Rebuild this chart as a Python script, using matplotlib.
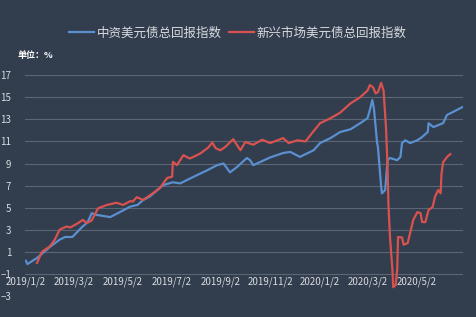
import matplotlib
matplotlib.use("Agg")
import matplotlib.pyplot as plt
import matplotlib.dates as mdates
import pandas as pd

plt.rcParams['font.family'] = ['Noto Sans CJK SC', 'DejaVu Sans']

BG = "#323d4e"
GRID = "#5b6575"
TXT = "#d9dce0"

# 中资美元债总回报指数
cn_dates = ["2019-01-02", "2019-01-04", "2019-01-16", "2019-02-01", "2019-02-13", "2019-02-20",
            "2019-03-01", "2019-03-13", "2019-03-20", "2019-03-25", "2019-03-31", "2019-04-17",
            "2019-04-29", "2019-05-12", "2019-05-21", "2019-05-28", "2019-06-05", "2019-06-22",
            "2019-07-04", "2019-07-13", "2019-08-03", "2019-08-16", "2019-08-28", "2019-09-05",
            "2019-09-13", "2019-09-22", "2019-10-04", "2019-10-08", "2019-10-12", "2019-11-02",
            "2019-11-18", "2019-11-27", "2019-12-09", "2019-12-26", "2020-01-03", "2020-01-16",
            "2020-01-28", "2020-02-10", "2020-02-22", "2020-03-02", "2020-03-05", "2020-03-08",
            "2020-03-10", "2020-03-14", "2020-03-15", "2020-03-19", "2020-03-20", "2020-03-24",
            "2020-03-27", "2020-03-30", "2020-04-08", "2020-04-12", "2020-04-14", "2020-04-18",
            "2020-04-24", "2020-05-03", "2020-05-09", "2020-05-16", "2020-05-17", "2020-05-23",
            "2020-06-04", "2020-06-09", "2020-06-16", "2020-06-28"]
cn_values = [0.2, -0.1, 0.45, 1.45, 2.1, 2.35,
             2.35, 3.25, 3.7, 4.5, 4.35, 4.15,
             4.6, 5.1, 5.25, 5.7, 6.0, 7.05,
             7.3, 7.2, 7.95, 8.4, 8.85, 9.0,
             8.2, 8.7, 9.5, 9.3, 8.85, 9.55,
             9.95, 10.05, 9.6, 10.2, 10.85, 11.3,
             11.85, 12.1, 12.65, 13.1, 13.85, 14.75,
             14.0, 10.85, 10.5, 6.9, 6.3, 6.6,
             9.3, 9.5, 9.3, 9.6, 10.85, 11.1,
             10.85, 11.1, 11.4, 11.85, 12.65, 12.3,
             12.65, 13.4, 13.65, 14.1]

# 新兴市场美元债总回报指数
em_dates = ["2019-01-16", "2019-01-22", "2019-02-01", "2019-02-07", "2019-02-13", "2019-02-17",
            "2019-02-22", "2019-02-26", "2019-03-08", "2019-03-14", "2019-03-19", "2019-03-25",
            "2019-04-02", "2019-04-13", "2019-04-25", "2019-05-03", "2019-05-12", "2019-05-15",
            "2019-05-20", "2019-05-28", "2019-06-09", "2019-06-18", "2019-06-27", "2019-07-03",
            "2019-07-04", "2019-07-09", "2019-07-17", "2019-07-25", "2019-08-07", "2019-08-17",
            "2019-08-22", "2019-08-26", "2019-09-01", "2019-09-07", "2019-09-17", "2019-09-26",
            "2019-10-02", "2019-10-04", "2019-10-12", "2019-10-23", "2019-11-02", "2019-11-18",
            "2019-11-25", "2019-12-06", "2019-12-16", "2019-12-24", "2020-01-03", "2020-01-16",
            "2020-01-28", "2020-02-10", "2020-02-22", "2020-03-02", "2020-03-05", "2020-03-09",
            "2020-03-12", "2020-03-15", "2020-03-19", "2020-03-22", "2020-03-25", "2020-03-27",
            "2020-03-28", "2020-03-30", "2020-04-02", "2020-04-03", "2020-04-06", "2020-04-08",
            "2020-04-09", "2020-04-14", "2020-04-16", "2020-04-21", "2020-04-24", "2020-04-28",
            "2020-05-03", "2020-05-07", "2020-05-09", "2020-05-13", "2020-05-17", "2020-05-22",
            "2020-05-25", "2020-05-29", "2020-06-01", "2020-06-02", "2020-06-04", "2020-06-09",
            "2020-06-13"]
em_values = [0.0, 1.0, 1.5, 2.1, 3.0, 3.15,
             3.3, 3.2, 3.6, 3.9, 3.6, 3.85,
             4.95, 5.25, 5.45, 5.25, 5.6, 5.55,
             5.95, 5.7, 6.3, 6.8, 7.7, 7.8,
             9.15, 8.85, 9.75, 9.45, 9.9, 10.45,
             10.9, 10.4, 10.2, 10.5, 11.2, 10.2,
             10.95, 10.9, 10.7, 11.15, 10.85, 11.3,
             10.85, 11.1, 11.0, 11.75, 12.65, 13.1,
             13.6, 14.45, 15.0, 15.6, 16.1, 15.9,
             15.35, 15.45, 16.3, 15.6, 12.3, 8.7,
             5.4, 2.35, -0.6, -2.2, -2.0, -0.6,
             2.35, 2.3, 1.65, 1.8, 2.7, 3.9,
             4.6, 4.5, 3.7, 3.7, 4.8, 5.05,
             6.0, 6.6, 6.3, 8.0, 9.1, 9.6,
             9.85]

y_ticks = [-3, -1, 1, 3, 5, 7, 9, 11, 13, 15, 17]
x_ticks = ["2019-01-02", "2019-03-02", "2019-05-02", "2019-07-02", "2019-09-02",
           "2019-11-02", "2020-01-02", "2020-03-02", "2020-05-02"]

fig = plt.figure(figsize=(4.76, 3.17), dpi=100, facecolor=BG)
ax = fig.add_axes([0.0525, 0.066, 0.9205, 0.697], facecolor=BG)

ax.plot(pd.to_datetime(cn_dates), cn_values, color="#5a8fd0", lw=1.6, label="中资美元债总回报指数")
ax.plot(pd.to_datetime(em_dates), em_values, color="#d9524e", lw=1.6, label="新兴市场美元债总回报指数")

ax.set_ylim(-3, 17)
ax.set_xlim(pd.Timestamp("2019-01-01"), pd.Timestamp("2020-06-29"))
ax.set_yticks(y_ticks)
for v in y_ticks[1:]:
    ax.axhline(v, color=GRID, lw=0.8, zorder=0)

xt = pd.to_datetime(x_ticks)
ax.set_xticks(xt)
ax.set_xticklabels([f"{d.year}/{d.month}/{d.day}" for d in xt])
ax.spines['bottom'].set_position(('data', -1))

for s in ax.spines.values():
    s.set_visible(False)
ax.tick_params(axis='both', length=0, colors=TXT, labelsize=7)
ax.tick_params(axis='y', pad=10)
ax.tick_params(axis='x', pad=2)

fig.text(0.036, 0.826, "单位：%", color="white", fontsize=6.5, fontweight="bold", va="center")

fig.legend(loc="center", bbox_to_anchor=(0.5, 0.895), ncol=2, frameon=False,
           fontsize=9, labelcolor=TXT, handlelength=2.0, handletextpad=0.2,
           columnspacing=0.6)

fig.savefig("out.png", dpi=100, facecolor=BG)
